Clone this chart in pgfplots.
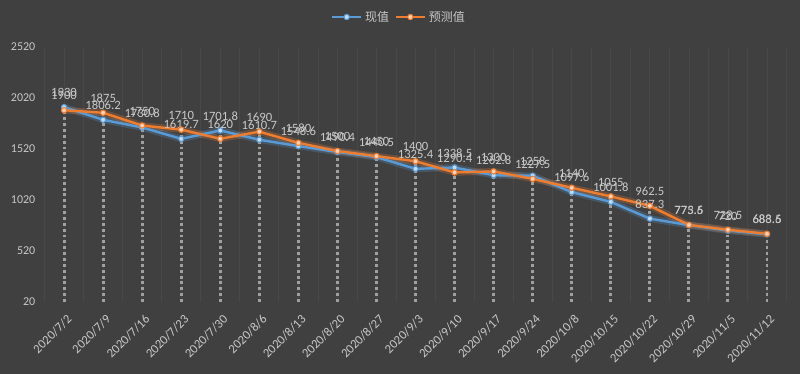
\documentclass[border=0pt]{standalone}
\usepackage{pgfplots}
\pgfplotsset{compat=1.18}
\usepackage{pgfplotstable}
\usepackage{fontspec}
\setmainfont{Carlito}
\newfontfamily\cjk{Noto Sans CJK SC}
\definecolor{bg}{RGB}{64,64,64}
\definecolor{gridc}{RGB}{72,72,72}
\definecolor{txt}{RGB}{200,200,200}
\definecolor{drop}{RGB}{160,160,160}
\definecolor{cblue}{RGB}{91,155,213}
\definecolor{corange}{RGB}{237,125,49}
\pgfplotstableread{
x b bl o ol
0 1930 1930 1900 1900
1 1806.2 1806.2 1875 1875
2 1730.8 1730.8 1750 1750
3 1619.7 1619.7 1710 1710
4 1701.8 1701.8 1620 1620
5 1610.7 1610.7 1690 1690
6 1548.6 1548.6 1580 1580
7 1490.4 1490.4 1500 1500
8 1440.5 1440.5 1450 1450
9 1325.4 1325.4 1400 1400
10 1338.5 1338.5 1290.4 1290.4
11 1262.8 1262.8 1300 1300
12 1258 1258 1227.5 1227.5
13 1097.6 1097.6 1140 1140
14 1001.8 1001.8 1055 1055
15 837.3 837.3 962.5 962.5
16 773.6 773.6 775.5 775.5
17 720 720 728.5 728.5
18 683.6 683.6 688.5 688.5
}\data
\begin{document}
\begin{tikzpicture}
\useasboundingbox (0,0) rectangle (600pt,280.5pt);
\fill[bg] (0,0) rectangle (600pt,280.5pt);
\begin{axis}[
  at={(33.4pt,54pt)}, anchor=south west,
  scale only axis, width=556.5pt, height=191.25pt,
  xmin=-0.5, xmax=18.5, ymin=20, ymax=2520,
  xtick={0,...,18},
  xticklabels={2020/7/2,2020/7/9,2020/7/16,2020/7/23,2020/7/30,2020/8/6,2020/8/13,2020/8/20,2020/8/27,2020/9/3,2020/9/10,2020/9/17,2020/9/24,2020/10/8,2020/10/15,2020/10/22,2020/10/29,2020/11/5,2020/11/12},
  ytick={20,520,1020,1520,2020,2520},
  axis line style={draw=none},
  major tick length=0pt, minor tick length=0pt,
  tick label style={font=\fontsize{9}{10}\selectfont, text=txt},
  /pgf/number format/assume math mode=true,
  /pgf/number format/1000 sep={},
  xticklabel style={xshift=6.5pt, yshift=-9pt, rotate=45, anchor=east, font=\fontsize{9.5}{10}\selectfont},
  yticklabel style={xshift=-3.4pt},
  clip=false,
  legend style={at={(0.478,1)}, anchor=center, yshift=22.5pt, draw=none, fill=none,
    font=\cjk\fontsize{9}{10}\selectfont, text=txt, legend columns=2,
    /tikz/every even column/.append style={column sep=2pt}},
  legend image code/.code={
    \draw[#1, mark=none] (0cm,0cm) -- (0.77cm,0cm);
    \draw[#1, only marks] plot coordinates {(0.385cm,0cm)};
  },
]
% faint vertical gridlines
\pgfplotsinvokeforeach{-0.5,0,0.5,1,1.5,2,2.5,3,3.5,4,4.5,5,5.5,6,6.5,7,7.5,8,8.5,9,9.5,10,10.5,11,11.5,12,12.5,13,13.5,14,14.5,15,15.5,16,16.5,17,17.5,18,18.5}{
  \draw[gridc, line width=0.6pt] (axis cs:#1,20) -- (axis cs:#1,2520);
}
% drop lines
\addplot[ycomb, drop, line width=2.2pt, dash pattern=on 2.2pt off 2.2pt, forget plot] table[x=x,y=b] {\data};
\addplot[ycomb, drop, line width=2.2pt, dash pattern=on 2.2pt off 2.2pt, forget plot] table[x=x,y=o] {\data};
% glow
\addplot[cblue, opacity=0.25, line width=5pt, forget plot] table[x=x,y=b] {\data};
\addplot[corange, opacity=0.25, line width=5pt, forget plot] table[x=x,y=o] {\data};
% series
\addplot[cblue, line width=1.8pt, mark=*, mark size=2pt,
  mark options={fill=white!65!cblue, draw=cblue, line width=0.8pt},
  point meta=explicit symbolic,
  nodes near coords, nodes near coords style={font=\fontsize{9.5}{10}\selectfont, text=txt, anchor=south, yshift=4pt}]
  table[x=x,y=b,meta=bl] {\data};
\addlegendentry{现值}
\addplot[corange, line width=1.8pt, mark=*, mark size=2pt,
  mark options={fill=white!65!corange, draw=corange, line width=0.8pt},
  point meta=explicit symbolic,
  nodes near coords, nodes near coords style={font=\fontsize{9.5}{10}\selectfont, text=txt, anchor=south, yshift=4pt}]
  table[x=x,y=o,meta=ol] {\data};
\addlegendentry{预测值}
\end{axis}
\end{tikzpicture}
\end{document}
